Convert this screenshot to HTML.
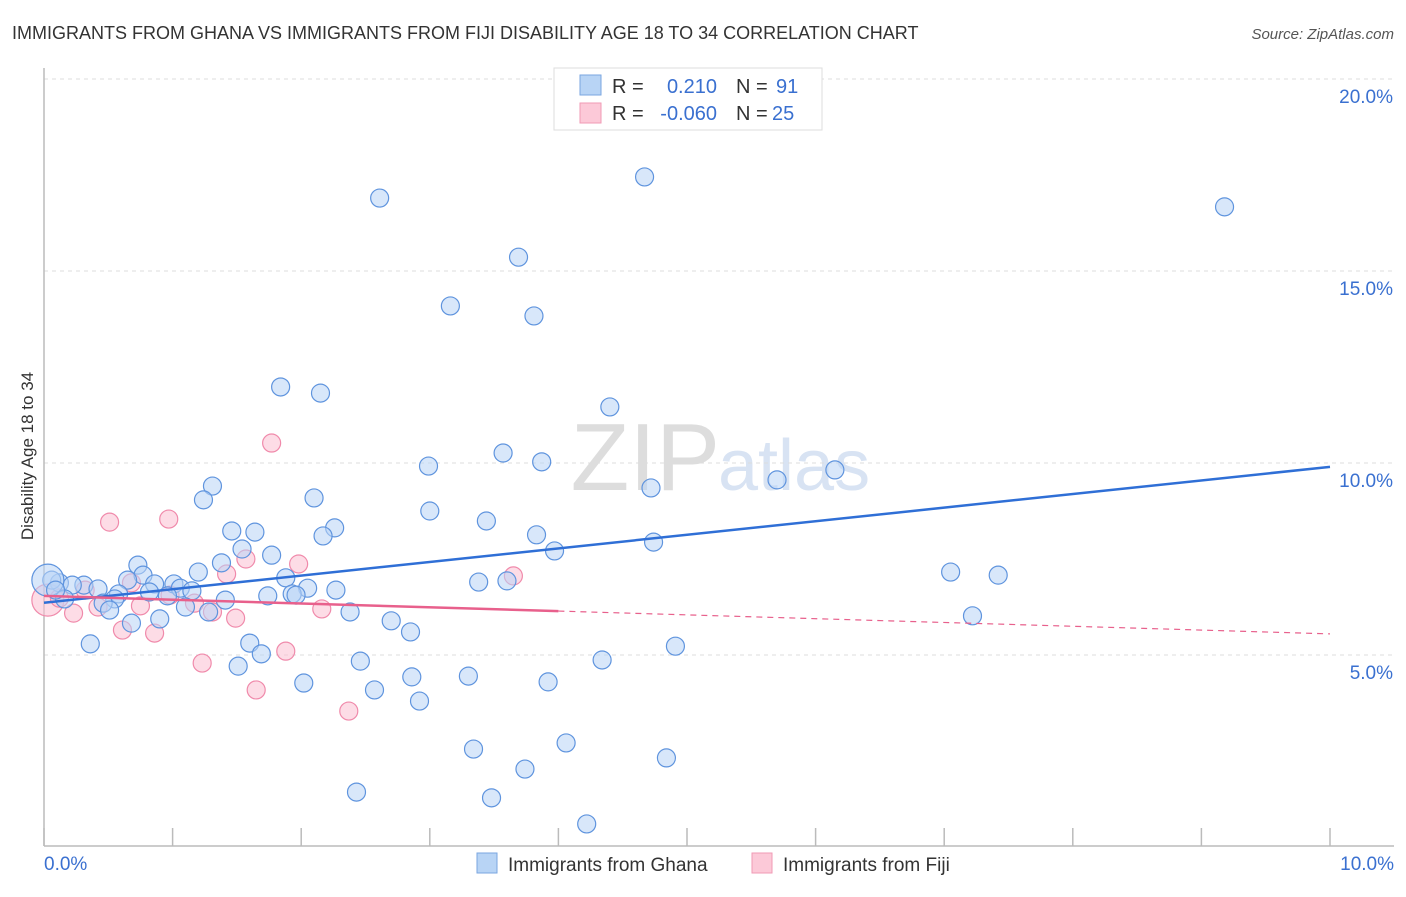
<!DOCTYPE html>
<html><head><meta charset="utf-8"><style>
body{margin:0;background:#fff;font-family:"Liberation Sans",sans-serif}
svg text{font-family:"Liberation Sans",sans-serif}
</style></head><body>
<svg id="chart" width="1406" height="892" viewBox="0 0 1406 892" xmlns="http://www.w3.org/2000/svg">
<text x="12" y="39" font-size="18" fill="#333">IMMIGRANTS FROM GHANA VS IMMIGRANTS FROM FIJI DISABILITY AGE 18 TO 34 CORRELATION CHART</text>
<text x="1394" y="39" font-size="15" fill="#555" text-anchor="end" font-style="italic">Source: ZipAtlas.com</text>
<text transform="translate(33,456) rotate(-90)" font-size="17" fill="#333" text-anchor="middle">Disability Age 18 to 34</text>
<text x="720" y="490" font-size="96" fill="#ddd" text-anchor="end" font-family="Liberation Serif">ZIP</text>
<text x="718" y="490" font-size="72" fill="#d8e3f3">atlas</text>
<g id="grid"></g>
<g id="axes"></g>
<g id="points"></g>
<g id="lines"></g>
<g>
<rect x="554" y="68" width="268" height="62" fill="#fff" stroke="#ddd"/>
<rect x="580" y="75" width="21" height="20" fill="#b8d4f5" stroke="#7aa6e0"/>
<rect x="580" y="103" width="21" height="20" fill="#fcc9d8" stroke="#f09ab5"/>
<text x="612" y="93" font-size="20" fill="#333">R =</text>
<text x="717" y="93" font-size="20" fill="#3a70d0" text-anchor="end">0.210</text>
<text x="736" y="93" font-size="20" fill="#333">N =</text>
<text x="776" y="93" font-size="20" fill="#3a70d0">91</text>
<text x="612" y="120" font-size="20" fill="#333">R =</text>
<text x="717" y="120" font-size="20" fill="#3a70d0" text-anchor="end">-0.060</text>
<text x="736" y="120" font-size="20" fill="#333">N =</text>
<text x="772" y="120" font-size="20" fill="#3a70d0">25</text>
</g>
<g>
<rect x="477" y="853" width="20" height="20" fill="#b8d4f5" stroke="#7aa6e0"/>
<text x="508" y="871" font-size="19" fill="#333">Immigrants from Ghana</text>
<rect x="752" y="853" width="20" height="20" fill="#fcc9d8" stroke="#f09ab5"/>
<text x="783" y="871" font-size="19" fill="#333">Immigrants from Fiji</text>
</g>
</svg>
<script>
const yTicks=[5,10,15,20];
const yTickLabels=["5.0%","10.0%","15.0%","20.0%"];
const xEndLabels=["0.0%","10.0%"];
const ghanaX=[2.61,4.67,9.18,3.69,3.16,3.81,1.84,2.15,4.40,2.99,3.57,3.87,6.15,5.70,4.72,1.31,1.24,2.10,3.00,3.44,2.26,1.46,1.64,2.17,3.83,3.97,4.74,1.54,1.77,0.73,1.38,0.77,1.20,7.05,7.42,3.38,3.60,1.88,2.05,2.27,0.65,0.86,1.01,1.06,0.31,0.42,0.12,0.06,0.22,0.58,0.82,1.15,1.74,1.93,1.96,0.96,1.41,0.55,0.16,0.46,0.51,1.10,1.28,2.38,7.22,2.70,0.68,0.90,2.85,0.36,1.60,4.91,1.69,4.34,2.46,1.51,2.86,3.30,2.02,3.92,2.57,2.92,3.34,4.06,4.84,3.74,2.43,3.48,4.22,0.03,0.09];
const ghanaY=[16.90,17.45,16.67,15.36,14.09,13.83,11.98,11.82,11.46,9.92,10.26,10.03,9.82,9.56,9.35,9.40,9.04,9.09,8.75,8.49,8.31,8.23,8.20,8.10,8.13,7.71,7.94,7.76,7.60,7.34,7.40,7.08,7.16,7.16,7.08,6.90,6.93,7.01,6.74,6.69,6.95,6.85,6.85,6.74,6.82,6.72,6.88,6.95,6.82,6.59,6.64,6.67,6.54,6.59,6.56,6.54,6.43,6.46,6.46,6.35,6.17,6.25,6.12,6.12,6.02,5.89,5.83,5.94,5.60,5.29,5.31,5.23,5.03,4.87,4.84,4.71,4.43,4.45,4.27,4.30,4.09,3.80,2.55,2.71,2.32,2.03,1.43,1.28,0.60,6.95,6.69];
const fijiX=[0.03,0.51,0.97,1.77,1.57,1.42,1.98,3.65,0.68,0.75,0.42,0.23,0.61,0.86,1.31,1.49,2.16,1.88,1.23,1.65,2.37,1.17,0.12,0.32,0.98];
const fijiY=[6.43,8.46,8.54,10.52,7.50,7.11,7.37,7.06,6.88,6.28,6.25,6.09,5.65,5.57,6.12,5.96,6.20,5.10,4.79,4.09,3.54,6.35,6.48,6.69,6.56];
const ghanaTrend=[6.36,9.90];
const fijiTrend=[6.54,5.55];
const fijiSolidEnd=4;

const X0=44,X1=1330,Y0=847,PX=38.4;
const sx=v=>X0+v*(X1-X0)/10;
const sy=v=>Y0-v*PX;
const NS="http://www.w3.org/2000/svg";
function mk(tag,attrs,parent){const e=document.createElementNS(NS,tag);for(const k in attrs)e.setAttribute(k,attrs[k]);parent.appendChild(e);return e;}
const grid=document.getElementById('grid'),axes=document.getElementById('axes'),pts=document.getElementById('points'),lines=document.getElementById('lines');
yTicks.forEach((t,i)=>{
  const l=mk('line',{x1:X0,x2:1394,y1:sy(t),y2:sy(t),stroke:'#ddd','stroke-dasharray':'4,4'},grid);
  
  
  const tx=mk('text',{x:1393,y:sy(t)+24,'font-size':19,fill:'#3a70d0','text-anchor':'end'},axes);
  tx.textContent=yTickLabels[i];
  
  
});
const ya=mk('line',{x1:X0,x2:X0,y1:68,y2:846,stroke:'#bbb','stroke-width':1.5},axes);


const xa=mk('line',{x1:X0,x2:1394,y1:846,y2:846,stroke:'#bbb','stroke-width':1.5},axes);


for(let i=0;i<=10;i++){
  const t=mk('line',{x1:sx(i),x2:sx(i),y1:828,y2:846,stroke:'#bbb','stroke-width':1.5},axes);
  
  
}
[[0,'start',44],[10,'end',1394]].forEach((d,i)=>{
  const t=mk('text',{x:d[2],y:870,'font-size':19,fill:'#3a70d0','text-anchor':d[1]},axes);
  t.textContent=xEndLabels[i];
  
  
});
function dots(xs,ys,fill,stroke,name,bigIdx){
  xs.forEach((x,i)=>{
    const r=i===bigIdx?16:9;
    const c=mk('circle',{cx:sx(x),cy:sy(ys[i]),r:r,fill:fill,'fill-opacity':0.55,stroke:stroke,'stroke-width':1.2},pts);
    
    
  });
}
dots(fijiX,fijiY,'#fcc0d2','#f08aab','fiji-point',0);
dots(ghanaX,ghanaY,'#b8d4f5','#5f94de','ghana-point',89);
const bl=mk('line',{x1:sx(0),y1:sy(ghanaTrend[0]),x2:sx(10),y2:sy(ghanaTrend[1]),stroke:'#2f6fd6','stroke-width':2.5},lines);


const fy=v=>fijiTrend[0]+(fijiTrend[1]-fijiTrend[0])*v/10;
const ps=mk('line',{x1:sx(0),y1:sy(fy(0)),x2:sx(fijiSolidEnd),y2:sy(fy(fijiSolidEnd)),stroke:'#e8608c','stroke-width':2.5},lines);


const pd=mk('line',{x1:sx(fijiSolidEnd),y1:sy(fy(fijiSolidEnd)),x2:sx(10),y2:sy(fy(10)),stroke:'#e8608c','stroke-width':1.2,'stroke-dasharray':'6,5'},lines);


</script>
</body></html>
